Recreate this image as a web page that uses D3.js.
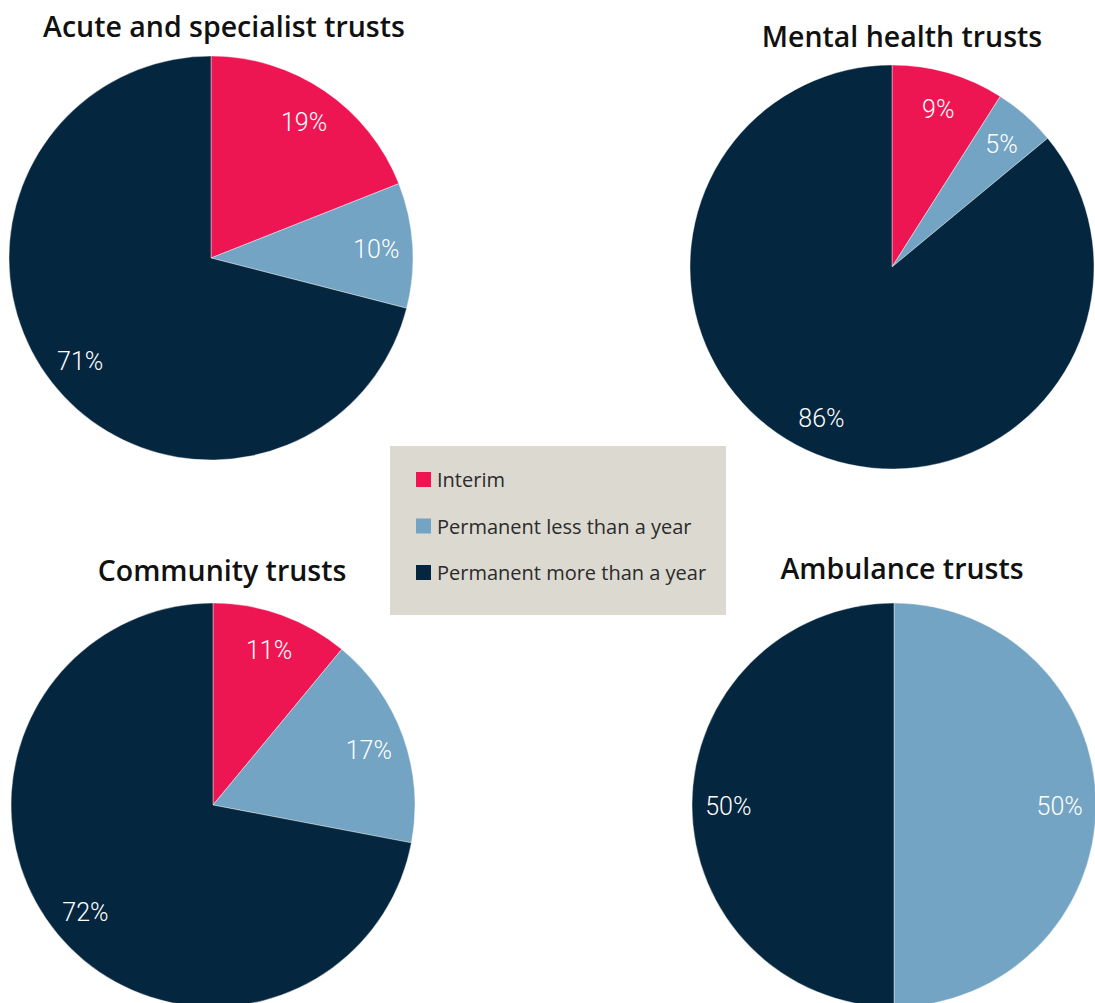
<!DOCTYPE html>
<html>
<head>
<meta charset="utf-8">
<script src="https://cdn.jsdelivr.net/npm/d3@7"></script>
<style>
  html, body { margin: 0; padding: 0; background: #fff; }
  svg { display: block; }
</style>
</head>
<body>
<svg id="chart" width="1095" height="1003"></svg>
<script>
// Tenure of trust leaders, by trust type
const categories = ["Interim", "Permanent less than a year", "Permanent more than a year"];
const trustTypes = ["Acute and specialist trusts", "Mental health trusts", "Community trusts", "Ambulance trusts"];
const acuteValues = [19, 10, 71];
const mentalValues = [9, 5, 86];
const communityValues = [11, 17, 72];
const ambulanceValues = [0, 50, 50];
const seriesValues = [acuteValues, mentalValues, communityValues, ambulanceValues];

const colors = ["#ee1652", "#73a4c3", "#05263f"];

const svg = d3.select("#chart");

const radius = 202;
const layout = [
  { cx: 211, cy: 258, tx: 224, ty: 37 },
  { cx: 892, cy: 267, tx: 902, ty: 47 },
  { cx: 213, cy: 805, tx: 222, ty: 581 },
  { cx: 894, cy: 805, tx: 902, ty: 579 }
];

const color = d3.scaleOrdinal().domain(categories).range(colors);
const pie = d3.pie().sort(null).value(d => d.value);
const arc = d3.arc().innerRadius(0).outerRadius(radius);
const labelArc = d3.arc().innerRadius(radius * 0.82).outerRadius(radius * 0.82);

trustTypes.forEach((name, i) => {
  const pos = layout[i];
  const data = categories.map((c, j) => ({ category: c, value: seriesValues[i][j] }));
  const g = svg.append("g").attr("transform", `translate(${pos.cx},${pos.cy})`);

  const slices = pie(data).filter(d => d.data.value > 0);

  g.selectAll("path")
    .data(slices)
    .join("path")
    .attr("d", arc)
    .attr("fill", d => color(d.data.category))
    .attr("stroke", "#ffffff")
    .attr("stroke-width", 0.4);

  g.selectAll("text")
    .data(slices)
    .join("text")
    .attr("transform", d => `translate(${labelArc.centroid(d)})`)
    .attr("text-anchor", "middle")
    .attr("dy", "0.4em")
    .attr("fill", "#ffffff")
    .style("font-family", "Roboto, 'Noto Sans', sans-serif")
    .style("font-weight", 300)
    .style("font-size", "25px")
    .text(d => d.data.value + "%");

  svg.append("text")
    .attr("x", pos.tx)
    .attr("y", pos.ty)
    .attr("text-anchor", "middle")
    .attr("fill", "#111111")
    .style("font-family", "'Open Sans', Roboto, sans-serif")
    .style("font-weight", 600)
    .style("font-size", "28.5px")
    .text(name);
});

// Legend
const legend = svg.append("g").attr("transform", "translate(390,446)");
legend.append("rect")
  .attr("width", 336)
  .attr("height", 169)
  .attr("fill", "#dcd9d1");

const rows = legend.selectAll("g.row")
  .data(categories)
  .join("g")
  .attr("class", "row")
  .attr("transform", (d, i) => `translate(26,${26 + i * 46.5})`);

rows.append("rect")
  .attr("width", 15)
  .attr("height", 15)
  .attr("fill", d => color(d));

rows.append("text")
  .attr("x", 21)
  .attr("y", 15)
  .attr("fill", "#2b2b2b")
  .style("font-family", "'Open Sans', Roboto, sans-serif")
  .style("font-weight", 400)
  .style("font-size", "20px")
  .text(d => d);
</script>
</body>
</html>
